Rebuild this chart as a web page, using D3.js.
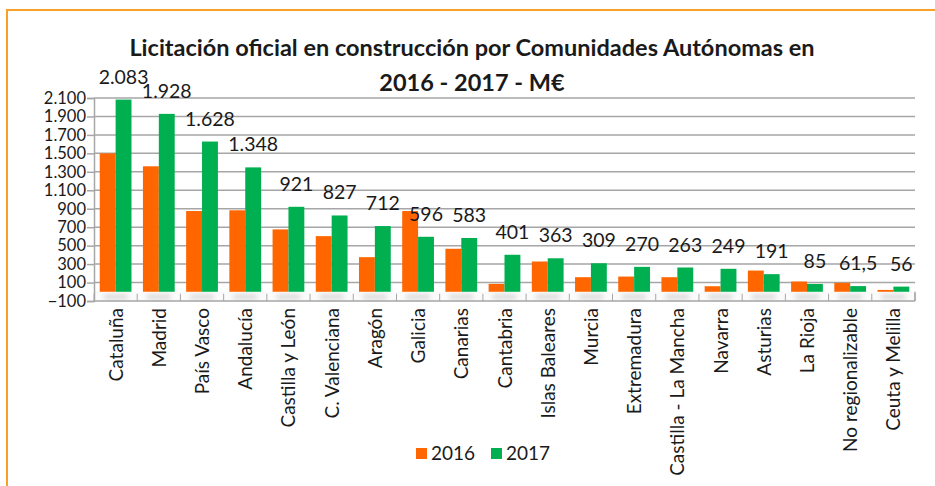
<!DOCTYPE html>
<html>
<head>
<meta charset="utf-8">
<script src="https://cdn.jsdelivr.net/npm/d3@7"></script>
<style>
  body { margin: 0; background: #fff; }
  text { font-family: Lato, "Liberation Sans", sans-serif; fill: #1a1a1a; }
</style>
</head>
<body>
<div id="chart"></div>
<script>
// data (M€)
var regions = ["Cataluña", "Madrid", "País Vasco", "Andalucía", "Castilla y León", "C. Valenciana",
  "Aragón", "Galicia", "Canarias", "Cantabria", "Islas Baleares", "Murcia", "Extremadura",
  "Castilla - La Mancha", "Navarra", "Asturias", "La Rioja", "No regionalizable", "Ceuta y Melilla"];
var years = ["2016", "2017"];
var v2016 = [1500, 1360, 875, 883, 676, 603, 375, 875, 466, 86, 328, 158, 165, 158, 60, 230, 111, 97, 20];
var v2017 = [2083, 1928, 1628, 1348, 921, 827, 712, 596, 583, 401, 363, 309, 270, 263, 249, 191, 85, 61.5, 56];
var yTicks = [-100, 100, 300, 500, 700, 900, 1100, 1300, 1500, 1700, 1900, 2100];

var W = 935, H = 486;
var margin = {top: 98, right: 20, bottom: 185, left: 94},
    width = W - margin.left - margin.right,
    height = H - margin.top - margin.bottom;

var color = d3.scaleOrdinal().domain(years).range(["#FF6600", "#00B050"]);
var locale = d3.formatLocale({decimal: ",", thousands: ".", grouping: [3], currency: ["", "€"]});
var fmt = function(v) { return Number.isInteger(v) ? locale.format(",")(v) : locale.format(",.1f")(v); };

var svg = d3.select("#chart").append("svg")
    .attr("width", W)
    .attr("height", H);

// orange frame (top + left)
svg.append("path")
  .attr("d", "M7,486V10H935")
  .attr("fill", "none")
  .attr("stroke", "#F7A128")
  .attr("stroke-width", 2);

// title
var title = svg.append("text")
  .attr("text-anchor", "middle")
  .style("font-weight", "bold")
  .style("font-size", "23.5px");
title.append("tspan").attr("x", 472).attr("y", 56).text("Licitación oficial en construcción por Comunidades Autónomas en");
title.append("tspan").attr("x", 472).attr("y", 91).text("2016 - 2017 - M€");

var defs = svg.append("defs");
defs.append("filter").attr("id", "blur")
  .attr("x", "-50%").attr("y", "-50%").attr("width", "200%").attr("height", "200%")
  .append("feGaussianBlur").attr("stdDeviation", 2.5);

var g = svg.append("g")
  .attr("transform", `translate(${margin.left},${margin.top})`);

var x = d3.scaleBand().domain(regions).range([0, width]).paddingInner(0).paddingOuter(0);
var xs = d3.scaleBand().domain(years).range([0, x.bandwidth()]).paddingInner(0).paddingOuter(0.36);
var y = d3.scaleLinear().domain([-100, 2100]).range([height, 0]);

// gridlines
g.append("g")
  .selectAll("line")
  .data(yTicks.filter(d => d > -100))
  .join("line")
    .attr("x1", 0).attr("x2", width)
    .attr("y1", d => y(d)).attr("y2", d => y(d))
    .attr("stroke", "#A6A6A6")
    .attr("stroke-width", 1.5);

// floor (between 0 and -100)
var floor = g.append("g");
floor.append("rect")
  .attr("x", 0).attr("y", y(0))
  .attr("width", width).attr("height", y(-100) - y(0))
  .attr("fill", "#fbfbfb");
// shadows of the bars on the floor
floor.selectAll("rect.shadow")
  .data(regions)
  .join("rect")
    .attr("class", "shadow")
    .attr("x", d => x(d) + xs("2016") + 4)
    .attr("y", y(0) + 3)
    .attr("width", xs.bandwidth() * 2 - 8)
    .attr("height", y(-100) - y(0) - 5)
    .attr("fill", "#d4d4d4")
    .attr("filter", "url(#blur)");
floor.selectAll("line.sep")
  .data(regions.concat([null]))
  .join("line")
    .attr("class", "sep")
    .attr("x1", (d, i) => i * x.step()).attr("x2", (d, i) => i * x.step())
    .attr("y1", y(0) + 2).attr("y2", y(-100))
    .attr("stroke", "#A6A6A6");
floor.append("line")
  .attr("x1", 0).attr("x2", width)
  .attr("y1", y(-100)).attr("y2", y(-100))
  .attr("stroke", "#A6A6A6").attr("stroke-width", 1.5);
floor.append("line")
  .attr("x1", width).attr("x2", width)
  .attr("y1", y(0)).attr("y2", y(-100))
  .attr("stroke", "#A6A6A6").attr("stroke-width", 1.5);

// Y axis
var yAxis = g.append("g")
  .call(d3.axisLeft(y).tickValues(yTicks).tickSize(7).tickPadding(1).tickFormat(fmt));
yAxis.select(".domain").attr("stroke", "#A6A6A6").attr("stroke-width", 1.5);
yAxis.selectAll(".tick line").attr("stroke", "#A6A6A6").attr("stroke-width", 1.5);
yAxis.selectAll("text").style("font-size", "16.5px").attr("fill", "#1a1a1a");

// bars
var rows = regions.map((r, i) => ({region: r, vals: [v2016[i], v2017[i]]}));
var groups = g.selectAll("g.grp")
  .data(rows)
  .join("g")
    .attr("class", "grp")
    .attr("transform", d => `translate(${x(d.region)},0)`);
groups.selectAll("rect")
  .data(d => years.map((yr, j) => ({year: yr, value: d.vals[j]})))
  .join("rect")
    .attr("x", d => xs(d.year))
    .attr("width", xs.bandwidth())
    .attr("y", d => y(d.value))
    .attr("height", d => y(0) - y(d.value))
    .attr("fill", d => color(d.year));

// value labels (2017)
g.selectAll("text.lbl")
  .data(rows)
  .join("text")
    .attr("class", "lbl")
    .attr("x", d => x(d.region) + xs("2017") + xs.bandwidth() / 2)
    .attr("y", d => y(d.vals[1]) - 16)
    .attr("text-anchor", "middle")
    .style("font-size", "19.5px")
    .text(d => fmt(d.vals[1]));

// category labels
g.selectAll("text.cat")
  .data(regions)
  .join("text")
    .attr("class", "cat")
    .attr("transform", d => `translate(${x(d) + x.bandwidth() / 2 + 7},${y(-100) + 7}) rotate(-90)`)
    .attr("text-anchor", "end")
    .style("font-size", "19px")
    .text(d => d);

// legend
var legend = svg.append("g").attr("transform", "translate(416,448)");
years.forEach(function(yr, i) {
  var lg = legend.append("g").attr("transform", `translate(${i * 75},0)`);
  lg.append("rect").attr("width", 11).attr("height", 11).attr("fill", color(yr));
  lg.append("text").attr("x", 15).attr("y", 12).style("font-size", "19px").text(yr);
});
</script>
</body>
</html>
